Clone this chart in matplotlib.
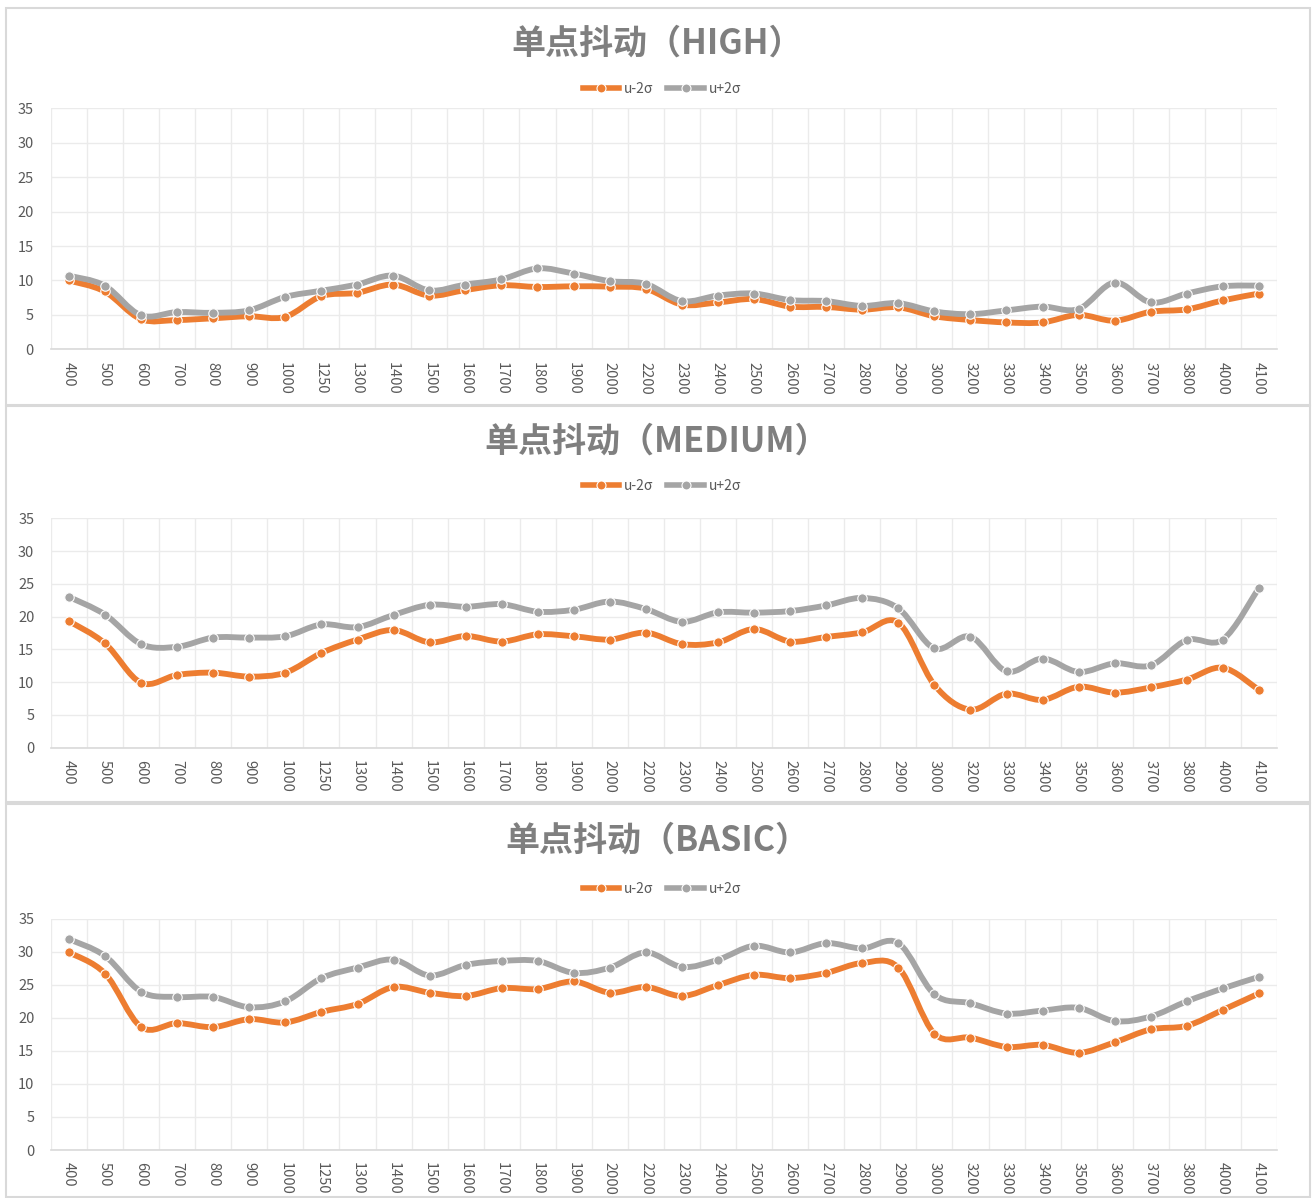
import numpy as np
import matplotlib
matplotlib.use("Agg")
import matplotlib.pyplot as plt
from matplotlib.path import Path
from matplotlib.patches import PathPatch, Rectangle

plt.rcParams['font.family'] = ['Noto Sans CJK SC', 'DejaVu Sans']

# categories (x axis)
freq = ["400", "500", "600", "700", "800", "900", "1000", "1250", "1300", "1400",
        "1500", "1600", "1700", "1800", "1900", "2000", "2200", "2300", "2400", "2500",
        "2600", "2700", "2800", "2900", "3000", "3200", "3300", "3400", "3500", "3600",
        "3700", "3800", "4000", "4100"]

# HIGH
high_lo = [10.0, 8.4, 4.4, 4.25, 4.5, 4.8, 4.7, 7.7, 8.2, 9.4,
           7.8, 8.6, 9.3, 9.05, 9.15, 9.1, 8.8, 6.5, 6.8, 7.3,
           6.2, 6.15, 5.75, 6.1, 4.8, 4.25, 3.9, 3.9, 5.0, 4.15,
           5.45, 5.8, 7.1, 8.1]
high_hi = [10.7, 9.25, 4.95, 5.4, 5.3, 5.65, 7.6, 8.5, 9.4, 10.7,
           8.55, 9.4, 10.15, 11.75, 11.0, 9.9, 9.5, 7.0, 7.8, 8.1,
           7.15, 7.0, 6.3, 6.7, 5.5, 5.1, 5.65, 6.2, 5.85, 9.7,
           6.8, 8.1, 9.15, 9.25]

# MEDIUM
med_lo = [19.3, 15.9, 9.9, 11.1, 11.45, 10.85, 11.45, 14.45, 16.5, 17.95,
          16.07, 17.04, 16.2, 17.3, 17.0, 16.5, 17.55, 15.8, 16.07, 18.1,
          16.2, 16.9, 17.6, 19.07, 9.56, 5.8, 8.24, 7.3, 9.3, 8.4,
          9.2, 10.4, 12.2, 8.8]
med_hi = [23.0, 20.3, 15.8, 15.4, 16.8, 16.8, 17.0, 18.8, 18.4, 20.25,
          21.8, 21.5, 21.9, 20.75, 21.05, 22.3, 21.15, 19.2, 20.65, 20.6,
          20.85, 21.7, 22.85, 21.25, 15.15, 16.94, 11.65, 13.6, 11.55, 12.87,
          12.56, 16.43, 16.5, 24.4]

# BASIC
basic_lo = [29.9, 26.7, 18.6, 19.2, 18.6, 19.8, 19.3, 20.9, 22.1, 24.66,
            23.8, 23.3, 24.5, 24.36, 25.5, 23.8, 24.66, 23.3, 24.96, 26.5,
            26.0, 26.8, 28.3, 27.6, 17.6, 17.0, 15.6, 15.9, 14.7, 16.3,
            18.25, 18.8, 21.2, 23.7]
basic_hi = [31.9, 29.35, 23.95, 23.15, 23.15, 21.6, 22.5, 26.0, 27.6, 28.8,
            26.4, 28.0, 28.6, 28.6, 26.8, 27.6, 29.9, 27.7, 28.8, 30.9,
            29.9, 31.3, 30.5, 31.3, 23.55, 22.2, 20.65, 21.1, 21.5, 19.5,
            20.2, 22.5, 24.45, 26.2]

titles = ["单点抖动（HIGH）", "单点抖动（MEDIUM）", "单点抖动（BASIC）"]
series = [(high_lo, high_hi), (med_lo, med_hi), (basic_lo, basic_hi)]
labels = ["u-2σ", "u+2σ"]
colors = ["#ED7D31", "#A5A5A5"]

W, H = 1313, 1198
fig = plt.figure(figsize=(W / 100, H / 100), dpi=100)

# pixel layout: box, plot area (left, top, right, bottom), title y, legend y
layout = [
    ((6, 8, 1310, 405), (50.5, 108.3, 1277, 349.3), 43, 89),
    ((6, 406, 1310, 802), (51, 518.3, 1277, 747.7), 441, 486),
    ((6, 804, 1310, 1197), (51, 918.7, 1277, 1150), 840, 889),
]


def smooth_path(x, y):
    # excel-like smoothed line: bezier segments with catmull-rom control points
    pts = np.column_stack([x, y]).astype(float)
    n = len(pts)
    verts = [pts[0]]
    codes = [Path.MOVETO]
    for i in range(n - 1):
        p0 = pts[i - 1] if i > 0 else pts[i]
        p1 = pts[i]
        p2 = pts[i + 1]
        p3 = pts[i + 2] if i + 2 < n else pts[i + 1]
        c1 = p1 + (p2 - p0) / 6.0
        c2 = p2 - (p3 - p1) / 6.0
        verts += [c1, c2, p2]
        codes += [Path.CURVE4] * 3
    return Path(verts, codes)


for k in range(3):
    box, plot, ty, ly = layout[k]
    # chart border
    fig.patches.append(Rectangle((box[0] / W, 1 - box[3] / H), (box[2] - box[0]) / W,
                                 (box[3] - box[1]) / H, transform=fig.transFigure,
                                 fill=False, edgecolor="#D9D9D9", linewidth=1.5))
    l, t, r, b = plot
    ax = fig.add_axes([l / W, 1 - b / H, (r - l) / W, (b - t) / H])
    x = np.arange(len(freq))
    for vals, lab, c in zip(series[k], labels, colors):
        ax.add_patch(PathPatch(smooth_path(x, vals), fill=False, edgecolor=c,
                               linewidth=4.2, capstyle="round", joinstyle="round", zorder=3))
        ax.plot(x, vals, linestyle="none", marker="o", markersize=6.8,
                markerfacecolor=c, markeredgecolor="white", markeredgewidth=0.8,
                zorder=4)
    ax.set_xlim(-0.5, len(freq) - 0.5)
    ax.set_ylim(0, 35)
    ax.set_yticks(range(0, 36, 5))
    ax.set_xticks(x)
    ax.set_xticklabels(freq, rotation=-90)
    ax.set_xticks(np.arange(-0.5, len(freq), 1), minor=True)
    ax.tick_params(axis="both", which="both", length=0, labelsize=10.5, colors="#595959")
    ax.tick_params(axis="y", pad=12)
    ax.tick_params(axis="x", pad=9)
    ax.grid(axis="y", which="major", color="#EBEBEB", linewidth=1)
    ax.grid(axis="x", which="minor", color="#EBEBEB", linewidth=1)
    ax.set_axisbelow(True)
    for s in ["left", "right", "top"]:
        ax.spines[s].set_visible(False)
    ax.spines["bottom"].set_color("#D9D9D9")
    ax.spines["bottom"].set_linewidth(1.2)

    fig.text(657 / W, 1 - ty / H, titles[k], ha="center", va="center",
             fontsize=24.5, fontweight="semibold", color="#7F7F7F")

    # legend handles: line with marker
    handles = []
    for c in colors:
        h, = ax.plot([], [], color=c, linewidth=4, marker="o", markersize=6.5,
                     markerfacecolor=c, markeredgecolor="white", markeredgewidth=0.8)
        handles.append(h)
    ax.legend(handles, labels, loc="center", bbox_to_anchor=(662 / W, 1 - ly / H),
              bbox_transform=fig.transFigure, ncol=2, frameon=False, fontsize=10,
              handlelength=2.6, columnspacing=1.0, handletextpad=0.4,
              labelcolor="#595959")

fig.savefig("out.png", dpi=100)
